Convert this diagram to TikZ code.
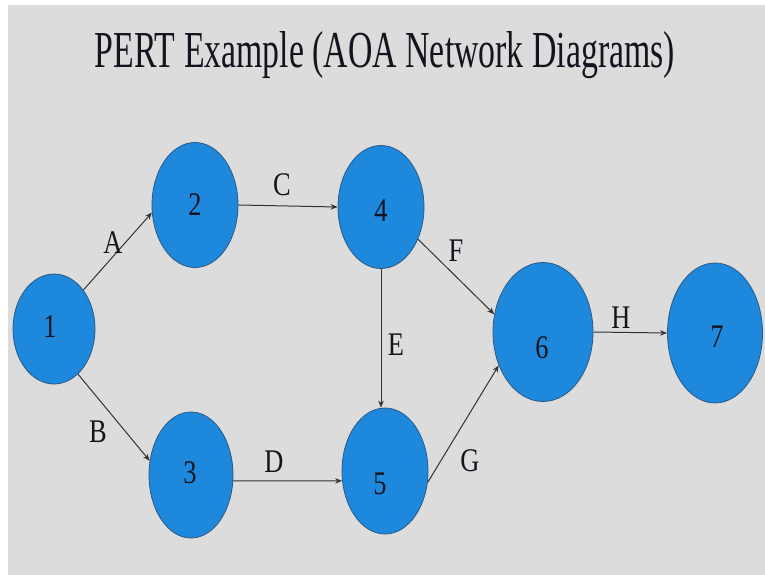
\documentclass[tikz,border=0pt]{standalone}
\usepackage{fontspec}
\setmainfont{Liberation Serif}
\newfontfamily\narrowserif[FakeStretch=0.8]{Liberation Serif}
\usetikzlibrary{shapes.geometric,arrows.meta}

\definecolor{slidebg}{HTML}{DCDCDC}
\definecolor{eventfill}{HTML}{1E88DC}
\definecolor{eventline}{HTML}{2C5A86}
\definecolor{inkdark}{HTML}{14141E}
\definecolor{edgeink}{HTML}{333333}

\tikzset{
  x=1pt, y=-1pt,
  event/.style={ellipse, draw=eventline, line width=0.8pt, fill=eventfill, inner sep=0pt},
  num/.style={text=inkdark, font=\narrowserif\fontsize{33}{33}\selectfont, inner sep=0pt},
  act/.style={text=inkdark, font=\narrowserif\fontsize{33}{33}\selectfont, inner sep=0pt},
  link/.style={draw=edgeink, line width=1pt, -{Stealth[length=7pt,width=5.5pt]}},
}

\begin{document}
\begin{tikzpicture}
  % slide background with the thin white margin at top and left
  \fill[white] (0,0) rectangle (765,575);
  \fill[slidebg] (8,5) rectangle (765,575);
  \useasboundingbox (0,0) rectangle (765,575);

  % title
  \node[anchor=base, text=inkdark, inner sep=0pt] (title) at (385,68)
    {\resizebox{580pt}{36pt}{\fontsize{50}{50}\selectfont PERT Example (AOA Network Diagrams)}};

  % events
  \node[event, minimum width=82pt, minimum height=110pt,
        label={[num, shift={(-4,-2)}]center:1}] (n1) at (54,329) {};
  \node[event, minimum width=86pt, minimum height=125pt,
        label={[num]center:2}] (n2) at (195,205) {};
  \node[event, minimum width=84pt, minimum height=126pt,
        label={[num, shift={(-1,-2)}]center:3}] (n3) at (191,475) {};
  \node[event, minimum width=86pt, minimum height=123pt,
        label={[num, shift={(0,4)}]center:4}] (n4) at (381,207) {};
  \node[event, minimum width=86pt, minimum height=126pt,
        label={[num, shift={(-5,13)}]center:5}] (n5) at (385,471) {};
  \node[event, minimum width=100pt, minimum height=139pt,
        label={[num, shift={(-1,16)}]center:6}] (n6) at (543,332) {};
  \node[event, minimum width=95pt, minimum height=140pt,
        label={[num, shift={(2,4)}]center:7}] (n7) at (715,333) {};

  % activities
  \draw[link] (n1.53)  -- (n2.190);
  \draw[link] (n1.-62) -- (n3.161);
  \draw[link] (n2.east) -- (n4.west);
  \draw[link] (n3.-8)  -- (n5.193);
  \draw[link] (n4.south) -- (n4.south |- n5.north);
  \draw[link] (n4.-41) -- (n6.160);
  \draw[link] (n5.-15) -- (n6.217);
  \draw[link] (n6.east) -- (n7.west);

  % activity labels
  \node[act] (la) at (113,243) {A};
  \node[act] (lb) at (98,432) {B};
  \node[act] (lc) at (282,185) {C};
  \node[act] (ld) at (274,462) {D};
  \node[act] (le) at (396,345) {E};
  \node[act] (lf) at (456,251) {F};
  \node[act] (lg) at (470,461) {G};
  \node[act] (lh) at (621,318) {H};
\end{tikzpicture}
\end{document}
